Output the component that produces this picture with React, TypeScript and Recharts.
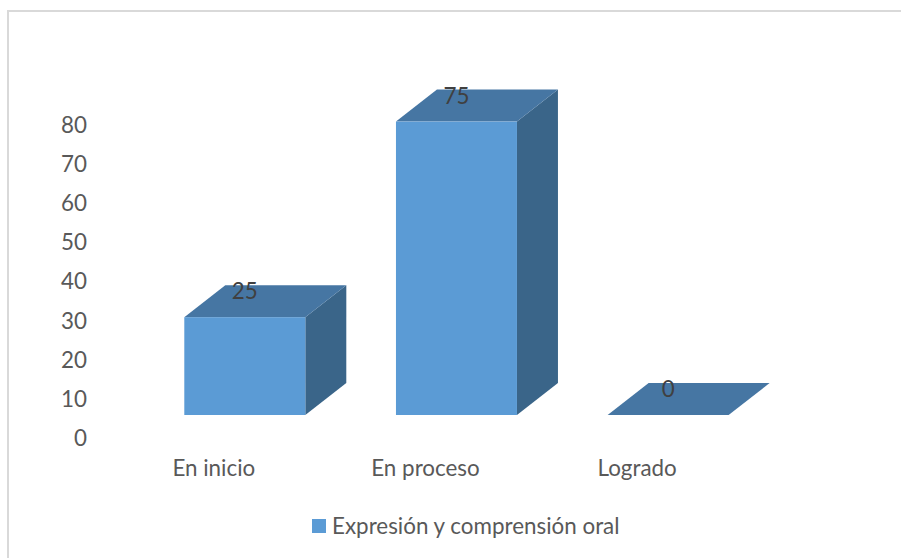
import React from "react";
import { BarChart, Bar, XAxis, YAxis, LabelList } from "recharts";

const categories = ["En inicio", "En proceso", "Logrado"];
const seriesValues = [25, 75, 0];
const yTicks = [0, 10, 20, 30, 40, 50, 60, 70, 80];
const seriesName = "Expresión y comprensión oral";

const data = categories.map((name, i) => ({ name, value: seriesValues[i] }));

const FONT = "Lato, Carlito, sans-serif";
const FONT_SIZE = 22.4;

// the 3D look: front face sits up and to the right of the axis position
const SHIFT_X = 31;
const SHIFT_Y = -23;
const DEPTH_X = 41;
const DEPTH_Y = -32;

const Box3D = ({ x, y, width, height }: any) => {
  const l = x + SHIFT_X;
  const r = l + width;
  const t = y + SHIFT_Y;
  const b = t + height;
  return (
    <g>
      {height > 0 && (
        <polygon
          points={`${r},${t} ${r + DEPTH_X},${t + DEPTH_Y} ${r + DEPTH_X},${b + DEPTH_Y} ${r},${b}`}
          fill="#3A6589"
        />
      )}
      <polygon
        points={`${l},${t} ${l + DEPTH_X},${t + DEPTH_Y} ${r + DEPTH_X},${t + DEPTH_Y} ${r},${t}`}
        fill="#4676A3"
      />
      {height > 0 && <rect x={l} y={t} width={width} height={height} fill="#5B9BD5" />}
    </g>
  );
};

const ValueLabel = ({ x, y, width, value }: any) => (
  <text
    x={x + width / 2 + 31}
    y={y - 23 - 18}
    textAnchor="middle"
    fontFamily={FONT}
    fontSize={FONT_SIZE}
    fill="#404040"
  >
    {value}
  </text>
);

export default function App() {
  return (
    <div style={{ position: "relative", width: 901, height: 558, background: "#fff", overflow: "hidden" }}>
      <style>{"body{margin:0}"}</style>
      <div
        style={{
          position: "absolute",
          left: 7,
          top: 10,
          width: 900,
          height: 560,
          borderLeft: "2px solid #D9D9D9",
          borderTop: "2px solid #D9D9D9",
        }}
      />
      <BarChart
        width={901}
        height={558}
        data={data}
        margin={{ top: 125, right: 158, bottom: 90, left: 38 }}
        barCategoryGap="21.4%"
        style={{ position: "absolute", left: 0, top: 0 }}
      >
        <XAxis
          dataKey="name"
          axisLine={false}
          tickLine={false}
          interval={0}
          tick={{ fill: "#595959", fontSize: FONT_SIZE, fontFamily: FONT }}
          tickMargin={16}
        />
        <YAxis
          domain={[0, 80]}
          ticks={yTicks}
          width={70}
          axisLine={false}
          tickLine={false}
          tick={{ fill: "#595959", fontSize: FONT_SIZE, fontFamily: FONT }}
          tickMargin={15}
          interval={0}
        />
        <Bar dataKey="value" name={seriesName} shape={<Box3D />} isAnimationActive={false}>
          <LabelList dataKey="value" content={<ValueLabel />} />
        </Bar>
      </BarChart>
      <div
        style={{
          position: "absolute",
          left: 312,
          top: 512,
          display: "flex",
          alignItems: "center",
          fontFamily: FONT,
          fontSize: FONT_SIZE,
          color: "#595959",
          lineHeight: "28px",
          whiteSpace: "nowrap",
        }}
      >
        <span style={{ width: 14, height: 14, background: "#5B9BD5", marginRight: 6, display: "inline-block" }} />
        {seriesName}
      </div>
    </div>
  );
}
